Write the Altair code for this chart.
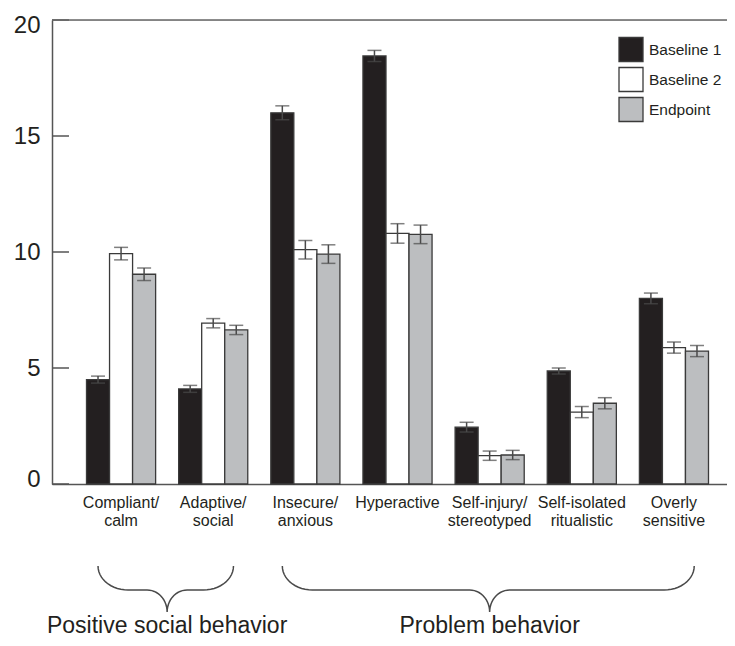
import altair as alt
import pandas as pd
import numpy as np

# ---------------- data ----------------
categories = ["Compliant/|calm", "Adaptive/|social", "Insecure/|anxious", "Hyperactive",
              "Self-injury/|stereotyped", "Self-isolated|ritualistic", "Overly|sensitive"]
series = ["Baseline 1", "Baseline 2", "Endpoint"]
baseline1 = [4.5, 4.1, 16.0, 18.45, 2.45, 4.87, 8.0]
baseline1_err = [0.15, 0.15, 0.3, 0.24, 0.21, 0.13, 0.23]
baseline2 = [9.93, 6.93, 10.1, 10.8, 1.22, 3.1, 5.88]
baseline2_err = [0.27, 0.2, 0.4, 0.42, 0.2, 0.24, 0.24]
endpoint = [9.04, 6.64, 9.91, 10.76, 1.25, 3.48, 5.73]
endpoint_err = [0.27, 0.2, 0.4, 0.4, 0.2, 0.24, 0.24]
y_ticks = [0, 5, 10, 15, 20]
groups = ["Positive social behavior", "Problem behavior"]
group_first = [0, 2]
group_last = [1, 6]

colors = ["#231f20", "#ffffff", "#bcbec0"]
ink = "#231f20"
line_col = "#4a4a4a"

# ---------------- layout ----------------
W, H = 675, 464
Y_MAX = 20
PAD_IN, PAD_OUT, ALIGN = 0.25, 0.2876, 0.651
n = len(categories)
step = W / (n - PAD_IN + 2 * PAD_OUT)
start = (W - step * (n - PAD_IN)) * ALIGN
bw = step * (1 - PAD_IN)
x_lo = -(start + bw / 2) / step
x_hi = (W - start - bw / 2) / step
pxu = H / Y_MAX

rows = []
for vals, errs, s in [(baseline1, baseline1_err, series[0]),
                      (baseline2, baseline2_err, series[1]),
                      (endpoint, endpoint_err, series[2])]:
    for c, v, e in zip(categories, vals, errs):
        rows.append({"cat": c, "series": s, "value": v, "lo": v - e, "hi": v + e})
df = pd.DataFrame(rows)

# brace geometry (index units on x, offset below axis in px -> y units)
top_off, h_off, tip_off = 82, 106, 128
r1 = 30 / step
r2 = 20 / step
brace_rows, text_rows = [], []
for g, f, l in zip(groups, group_first, group_last):
    xl, xr, xm = f - 0.25, l + 0.22, (f + l) / 2
    pts = []
    ts = np.linspace(0, np.pi / 2, 14)
    for t in ts:
        pts.append((xl + r1 * (1 - np.cos(t)), top_off + (h_off - top_off) * np.sin(t)))
    for t in ts:
        pts.append((xm - r2 + r2 * np.sin(t), h_off + (tip_off - h_off) * (1 - np.cos(t))))
    for t in ts[::-1]:
        pts.append((xm + r2 - r2 * np.sin(t), h_off + (tip_off - h_off) * (1 - np.cos(t))))
    for t in ts[::-1]:
        pts.append((xr - r1 * (1 - np.cos(t)), top_off + (h_off - top_off) * np.sin(t)))
    for i, (px, py) in enumerate(pts):
        brace_rows.append({"g": g, "o": i, "bx": px, "by": -py / pxu})
    text_rows.append({"g": g, "gx": xm, "gy": -149 / pxu})
brace_df = pd.DataFrame(brace_rows)
text_df = pd.DataFrame(text_rows)

# ---------------- encodings ----------------
x_axis = alt.Axis(title=None, labelAngle=0, ticks=False, domainColor="#555555", domainWidth=1.5,
                  labelFontSize=16, labelColor=ink, labelLineHeight=18.5, labelPadding=10,
                  labelExpr="split(datum.value, '|')", labelFont="Liberation Sans")
x_scale = alt.Scale(paddingInner=PAD_IN, paddingOuter=PAD_OUT, align=ALIGN, round=False)
x_enc = alt.X("cat:N", sort=categories, scale=x_scale, axis=x_axis)
xo_enc = alt.XOffset("series:N", sort=series, scale=alt.Scale(paddingInner=0, paddingOuter=0))
y_axis = alt.Axis(title=None, values=y_ticks, ticks=False, grid=False, domainColor="#555555",
                  domainWidth=1.5, labelFontSize=24, labelColor=ink, labelPadding=12,
                  labelFlush=True, labelFlushOffset=7,
                  labelFont="Liberation Sans")
y_scale = alt.Scale(domain=[0, Y_MAX], nice=False, zero=True)

bars = alt.Chart(df).mark_bar(stroke="#3a3a3a", strokeWidth=1.3).encode(
    x=x_enc, xOffset=xo_enc,
    y=alt.Y("value:Q", scale=y_scale, axis=y_axis),
    color=alt.Color("series:N", sort=series,
                    scale=alt.Scale(domain=series, range=colors),
                    legend=alt.Legend(title=None, orient="none", legendX=566, legendY=16.5,
                                      symbolType="square", symbolSize=576,
                                      symbolStrokeColor="#3a3a3a", symbolStrokeWidth=1.3,
                                      labelFontSize=15.5, labelColor=ink, labelOffset=5,
                                      rowPadding=0, padding=0, labelFont="Liberation Sans")),
)
err = alt.Chart(df).mark_rule(color=line_col, strokeWidth=1.5).encode(
    x=x_enc, xOffset=xo_enc,
    y=alt.Y("lo:Q", scale=y_scale, axis=y_axis), y2="hi:Q")
cap_hi = alt.Chart(df).mark_tick(color=line_col, thickness=1.5, size=14).encode(
    x=x_enc, xOffset=xo_enc, y=alt.Y("hi:Q", scale=y_scale, axis=y_axis))
cap_lo = alt.Chart(df).mark_tick(color=line_col, thickness=1.5, size=14).encode(
    x=x_enc, xOffset=xo_enc, y=alt.Y("lo:Q", scale=y_scale, axis=y_axis))
yt = alt.Chart(pd.DataFrame({"v": y_ticks})).mark_rule(color="#555555", strokeWidth=1.5).encode(
    y=alt.Y("v:Q", scale=y_scale, axis=y_axis), x=alt.value(0), x2=alt.value(17))
top_line = alt.Chart(pd.DataFrame({"v": [Y_MAX]})).mark_rule(color="#666666", strokeWidth=1.5).encode(
    y=alt.Y("v:Q", scale=y_scale, axis=y_axis), x=alt.value(0), x2=alt.value(W))

main = alt.layer(bars, err, cap_hi, cap_lo, yt, top_line)

bx_scale = alt.Scale(domain=[x_lo, x_hi], nice=False, zero=False)
brace = alt.Chart(brace_df).mark_line(color=line_col, strokeWidth=1.5, clip=False).encode(
    x=alt.X("bx:Q", scale=bx_scale, axis=None),
    y=alt.Y("by:Q", scale=y_scale, axis=y_axis),
    detail="g:N", order=alt.Order("o:Q"))
gtext = alt.Chart(text_df).mark_text(fontSize=23, color=ink, align="center",
                                     baseline="alphabetic", font="Liberation Sans").encode(
    x=alt.X("gx:Q", scale=bx_scale, axis=None),
    y=alt.Y("gy:Q", scale=y_scale, axis=y_axis),
    text="g:N")
braces = alt.layer(brace, gtext)

chart = alt.layer(main, braces).resolve_scale(x="independent").properties(
    width=W, height=H,
    autosize=alt.AutoSizeParams(type="none"),
    padding={"left": 44, "top": 12, "right": 0, "bottom": 154},
).configure_view(stroke=None).configure(font="Liberation Sans", background="white")

chart.save("out.html", embed_options={"renderer": "svg", "actions": False})
